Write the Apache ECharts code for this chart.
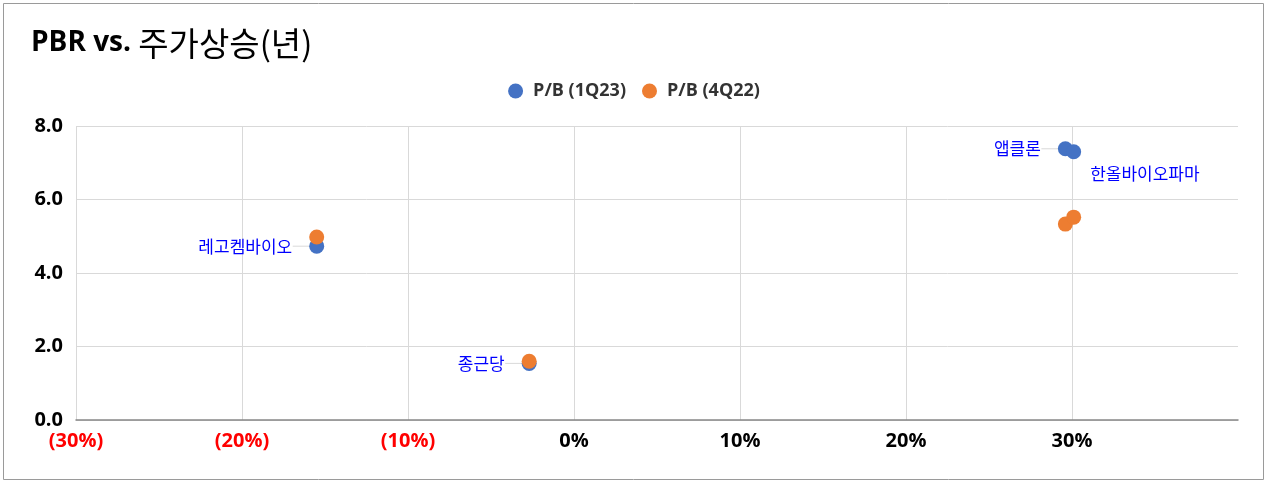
<!DOCTYPE html>
<html><head><meta charset="utf-8">
<script src="https://cdn.jsdelivr.net/npm/echarts@6/dist/echarts.min.js"></script>
<style>html,body{margin:0;padding:0;background:#fff}#c{width:1268px;height:484px}</style>
</head><body><div id="c"></div>
<script>
const titleMain = 'PBR vs. ';
const titleSub = '주가상승(년)';
const seriesNames = ['P/B (1Q23)', 'P/B (4Q22)'];
const companies = ['레고켐바이오', '종근당', '앱클론', '한올바이오파마'];
const priceChange = [-0.155, -0.027, 0.296, 0.301];
const pb1Q23 = [4.73, 1.54, 7.38, 7.30];
const pb4Q22 = [4.98, 1.60, 5.33, 5.52];

const FONT = '"Open Sans","Noto Sans CJK KR",sans-serif';
const KFONT = '"Noto Sans CJK KR","Open Sans",sans-serif';

function pts(vals, withLabels) {
  return companies.map((n, i) => {
    const d = { name: n, value: [priceChange[i], vals[i]] };
    if (withLabels && n === '한올바이오파마') {
      d.label = { position: [24, 29], verticalAlign: 'middle', align: 'left' };
    }
    return d;
  });
}

const leaderData = companies.map((n, i) => [priceChange[i], pb1Q23[i], n === '한올바이오파마' ? 0 : 1]);

const chart = echarts.init(document.getElementById('c'), null, { renderer: 'canvas' });
chart.setOption({
  animation: false,
  backgroundColor: '#fff',
  graphic: [{ type: 'rect', shape: { x: 3.5, y: 3.5, width: 1260, height: 476 }, style: { fill: 'none', stroke: '#9a9a9a', lineWidth: 1 }, silent: true }],
  title: {
    left: 26, top: 22,
    text: '{a|' + titleMain + '}{b|' + titleSub + '}',
    textStyle: {
      rich: {
        a: { fontFamily: FONT, fontWeight: 'bold', fontSize: 28, color: '#000' },
        b: { fontFamily: KFONT, fontWeight: 'normal', fontSize: 33, color: '#000' }
      }
    }
  },
  legend: {
    top: 77, left: 'center',
    icon: 'circle', itemWidth: 25, itemHeight: 15, itemGap: 16,
    textStyle: { fontFamily: FONT, fontWeight: 'bold', fontSize: 18, color: '#333' },
    data: seriesNames
  },
  grid: { left: 76, right: 30, top: 126, bottom: 64, containLabel: false },
  xAxis: {
    type: 'value', min: -0.3, max: 0.4, interval: 0.1,
    axisLine: { show: true, onZero: false, lineStyle: { color: '#888', width: 1.5 } },
    axisTick: { show: false },
    splitLine: { show: true, showMaxLine: false, lineStyle: { color: '#d9d9d9', width: 1 } },
    axisLabel: {
      margin: 11, showMaxLabel: false,
      fontFamily: FONT, fontWeight: 'bold', fontSize: 20, color: '#000',
      formatter: v => {
        const p = Math.round(v * 100);
        if (p > 35) return '';
        return p < 0 ? '{n|(' + Math.abs(p) + '%)}' : '{p|' + p + '%}';
      },
      rich: {
        n: { color: '#ff0000', fontFamily: FONT, fontWeight: 'bold', fontSize: 20 },
        p: { color: '#000', fontFamily: FONT, fontWeight: 'bold', fontSize: 20 }
      }
    }
  },
  yAxis: {
    type: 'value', min: 0, max: 8, interval: 2,
    axisLine: { show: false }, axisTick: { show: false },
    splitLine: { show: true, lineStyle: { color: '#d9d9d9', width: 1 } },
    axisLabel: { margin: 13, fontFamily: FONT, fontWeight: 'bold', fontSize: 20, color: '#000', formatter: v => v.toFixed(1) }
  },
  series: [
    {
      type: 'custom', silent: true, z: 1,
      data: leaderData,
      renderItem: (params, api) => {
        if (!api.value(2)) return null;
        const c = api.coord([api.value(0), api.value(1)]);
        return { type: 'line', shape: { x1: c[0] - 24, y1: c[1], x2: c[0] - 7, y2: c[1] }, style: { stroke: '#d9d9d9', lineWidth: 1 } };
      }
    },
    {
      name: seriesNames[0], type: 'scatter', symbolSize: 15, z: 2,
      itemStyle: { color: '#4472C4', opacity: 1 },
      data: pts(pb1Q23, true),
      label: { show: true, position: 'left', distance: 17, formatter: p => p.name, fontFamily: KFONT, fontSize: 17, color: '#0000ff' }
    },
    {
      name: seriesNames[1], type: 'scatter', symbolSize: 15, z: 3,
      itemStyle: { color: '#ED7D31', opacity: 1 },
      data: pts(pb4Q22, false)
    }
  ]
});
</script></body></html>
